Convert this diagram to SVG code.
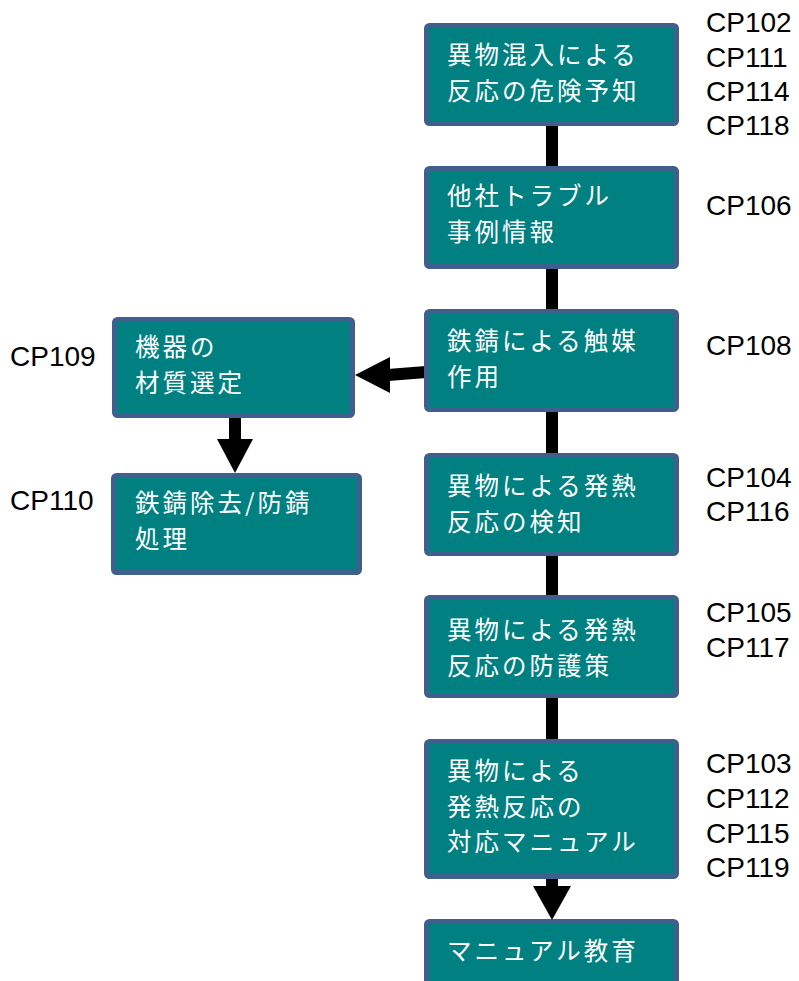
<svg xmlns="http://www.w3.org/2000/svg" width="799" height="981" viewBox="0 0 799 981">
<style>
.box{fill:#008080;stroke:#3F5F8C;stroke-width:5}
.bt{fill:#ffffff;font-family:"Noto Sans CJK JP","Noto Sans CJK SC",sans-serif;font-size:24.5px;letter-spacing:3px}
.cp{fill:#000000;font-family:"Liberation Sans",Arial,sans-serif;font-size:28px}
.ln{stroke:#000000;stroke-width:12;fill:none}
.ah{fill:#000000}
</style>
<rect width="799" height="981" fill="#ffffff"/>
<g id="connectors">
<line class="ln" x1="552" y1="124" x2="552" y2="168"/>
<line class="ln" x1="552" y1="267" x2="552" y2="311"/>
<line class="ln" x1="552" y1="410" x2="552" y2="455"/>
<line class="ln" x1="552" y1="554" x2="552" y2="597"/>
<line class="ln" x1="552" y1="696" x2="552" y2="741"/>
<line class="ln" x1="552" y1="877" x2="552" y2="887"/>
<polygon class="ah" points="533,886 571,886 552,920"/>
<line class="ln" x1="426" y1="372" x2="388" y2="375"/>
<polygon class="ah" points="390,357 390,393 355,375"/>
<line class="ln" x1="235" y1="416" x2="235" y2="440"/>
<polygon class="ah" points="217,439 253,439 235,473"/>
</g>
<g id="n1"><rect class="box" x="426.5" y="25.5" width="250" height="98" rx="3"/>
<text class="bt" x="447" y="64">異物混入による</text><text class="bt" x="447" y="99.5">反応の危険予知</text></g>
<g id="n2"><rect class="box" x="426.5" y="168.5" width="250" height="98" rx="3"/>
<text class="bt" x="447" y="205">他社トラブル</text><text class="bt" x="447" y="240.5">事例情報</text></g>
<g id="n3"><rect class="box" x="426.5" y="311.5" width="250" height="98" rx="3"/>
<text class="bt" x="447" y="350">鉄錆による触媒</text><text class="bt" x="447" y="385.5">作用</text></g>
<g id="n4"><rect class="box" x="426.5" y="455.5" width="250" height="98" rx="3"/>
<text class="bt" x="447" y="495">異物による発熱</text><text class="bt" x="447" y="530.5">反応の検知</text></g>
<g id="n5"><rect class="box" x="426.5" y="597.5" width="250" height="98" rx="3"/>
<text class="bt" x="447" y="639">異物による発熱</text><text class="bt" x="447" y="674.5">反応の防護策</text></g>
<g id="n6"><rect class="box" x="426.5" y="741.5" width="250" height="135" rx="3"/>
<text class="bt" x="447" y="780">異物による</text><text class="bt" x="447" y="815.5">発熱反応の</text><text class="bt" x="447" y="851">対応マニュアル</text></g>
<g id="n7"><rect class="box" x="426.5" y="921.5" width="250" height="98" rx="3"/>
<text class="bt" x="447" y="960">マニュアル教育</text></g>
<g id="nA"><rect class="box" x="114.5" y="319.5" width="238" height="96" rx="3"/>
<text class="bt" x="135" y="356">機器の</text><text class="bt" x="135" y="391.5">材質選定</text></g>
<g id="nB"><rect class="box" x="113.5" y="475.5" width="246" height="97" rx="3"/>
<text class="bt" x="135" y="512">鉄錆除去/防錆</text><text class="bt" x="135" y="547.5">処理</text></g>
<g id="labels">
<text class="cp" x="706" y="32">CP102</text>
<text class="cp" x="706" y="67">CP111</text>
<text class="cp" x="706" y="101">CP114</text>
<text class="cp" x="706" y="135">CP118</text>
<text class="cp" x="706" y="215">CP106</text>
<text class="cp" x="706" y="355">CP108</text>
<text class="cp" x="706" y="487">CP104</text>
<text class="cp" x="706" y="521">CP116</text>
<text class="cp" x="706" y="622">CP105</text>
<text class="cp" x="706" y="657">CP117</text>
<text class="cp" x="706" y="773">CP103</text>
<text class="cp" x="706" y="808">CP112</text>
<text class="cp" x="706" y="843">CP115</text>
<text class="cp" x="706" y="877">CP119</text>
<text class="cp" x="10" y="366">CP109</text>
<text class="cp" x="10" y="510">CP110</text>
</g>
</svg>
